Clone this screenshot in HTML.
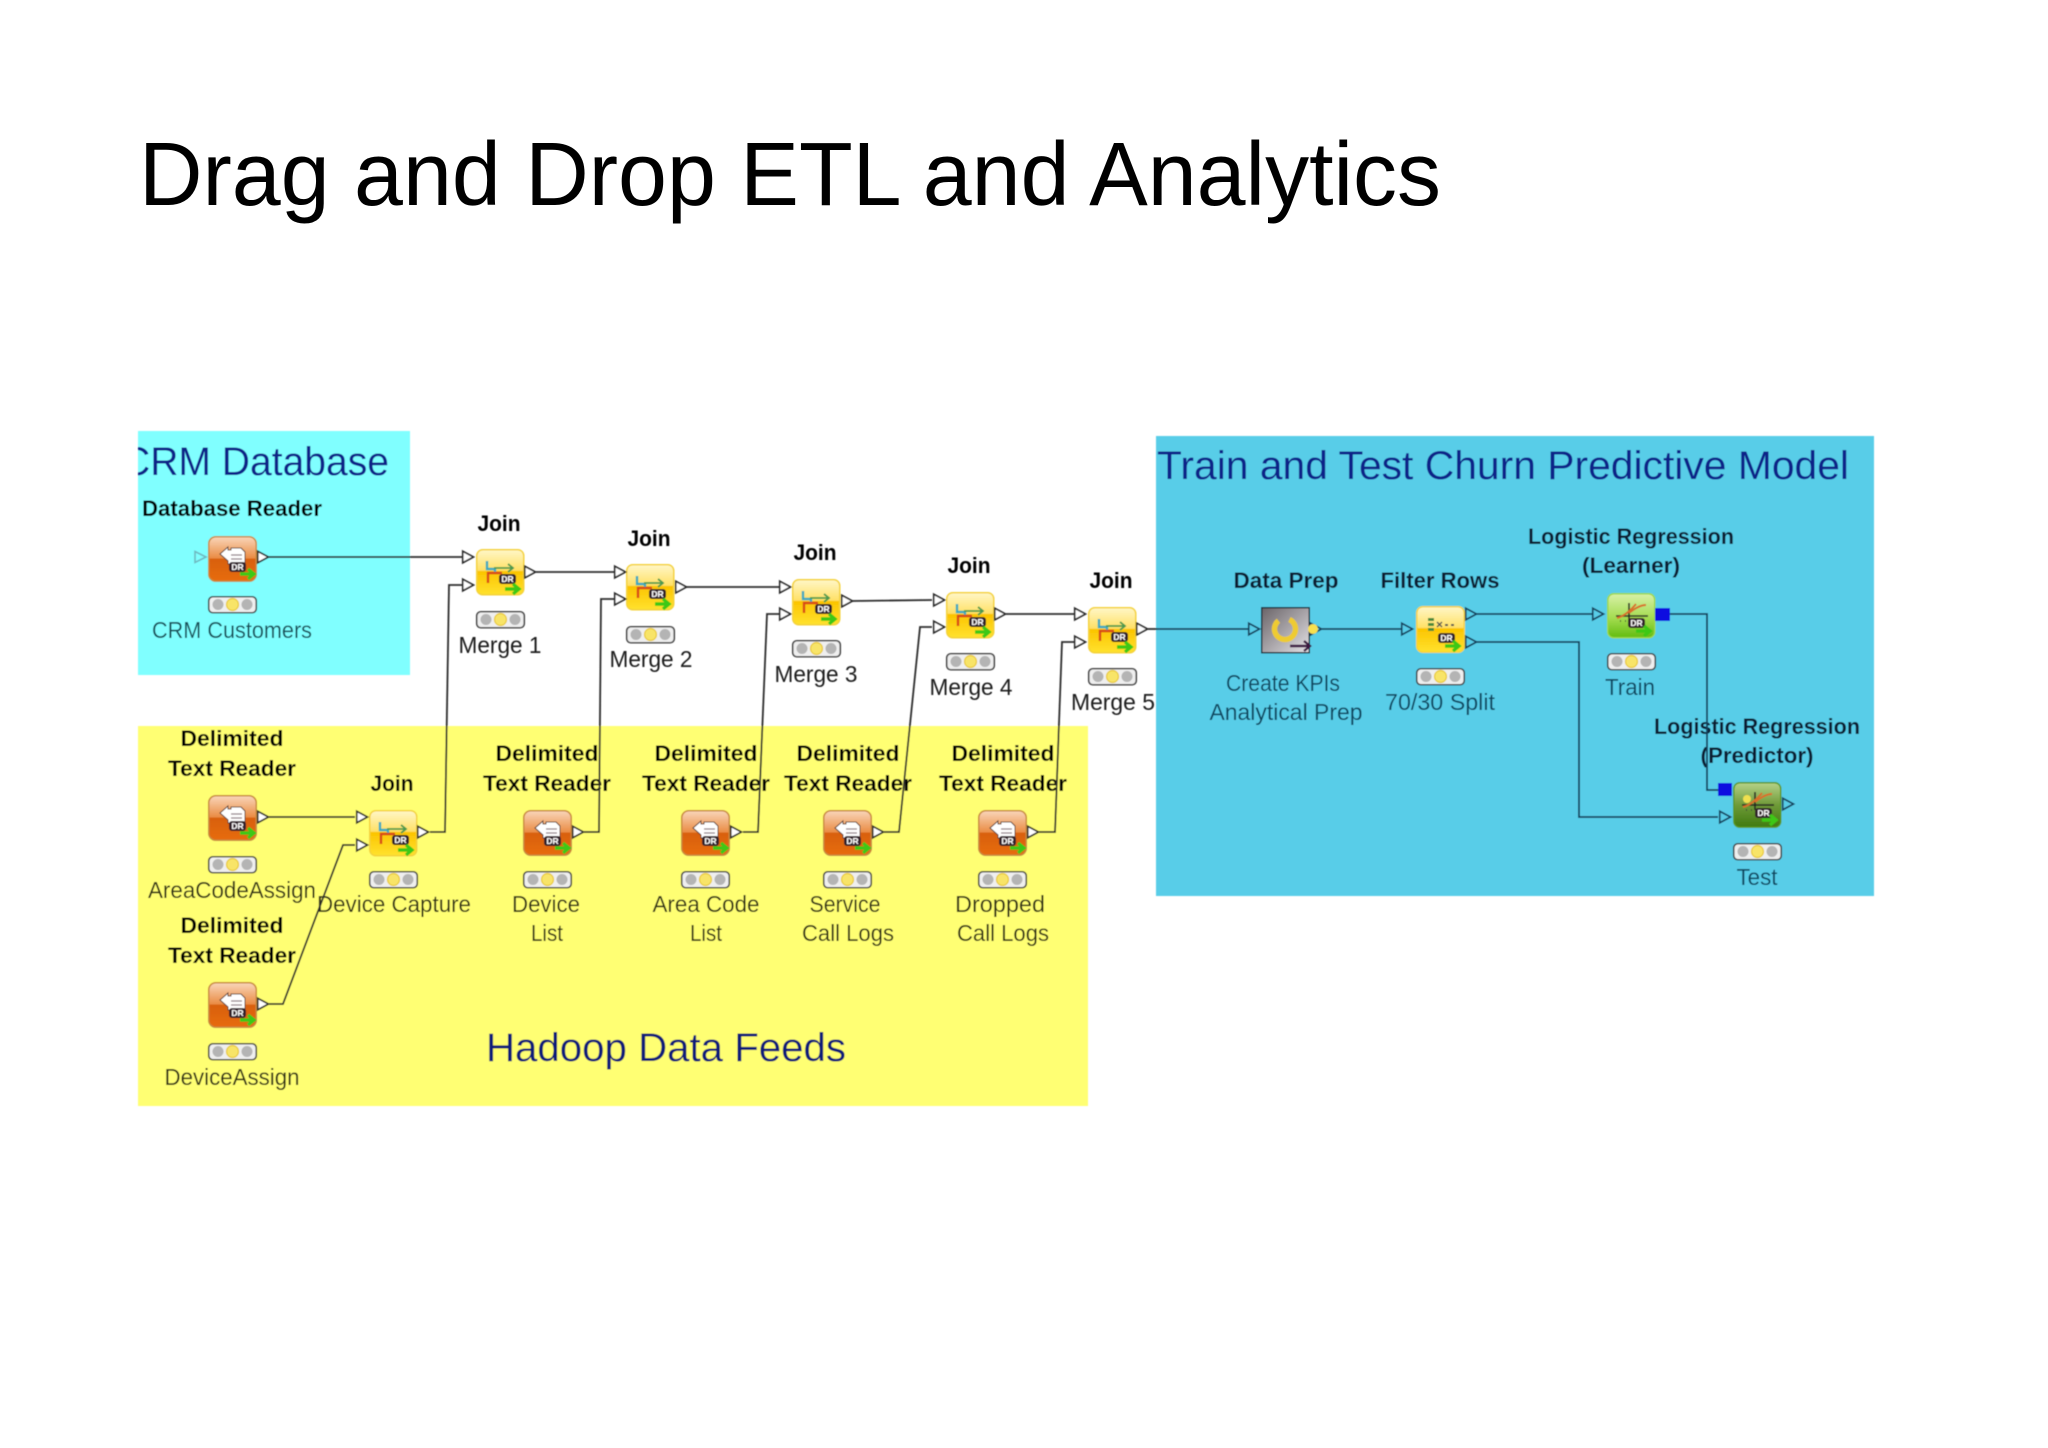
<!DOCTYPE html>
<html>
<head>
<meta charset="utf-8">
<style>
html,body{margin:0;padding:0;background:#fff;width:2048px;height:1448px;overflow:hidden}
svg{display:block}
text{font-family:"Liberation Sans",sans-serif;text-anchor:middle}
.h{font-size:40px;fill:#0a2488;text-anchor:start}
.b{font-size:22px;font-weight:bold;fill:#050505}
.l{font-size:23px;fill:#1e1e1e}
.lc{font-size:23px;fill:#124f58}
.ly{font-size:23px;fill:#2e2e14}
.lb{font-size:23px;fill:#0f4660}
.bb{font-size:22px;font-weight:bold;fill:#081c30}
.dr{font-size:8.500px;font-weight:bold;fill:#fff}
.wire{fill:none;stroke:#2d2d2d;stroke-width:1.8}
.wb{fill:none;stroke:#12405c;stroke-width:1.8}
</style>
</head>
<body>
<svg width="2048" height="1448" viewBox="0 0 2048 1448" xmlns="http://www.w3.org/2000/svg">
<defs>
<linearGradient id="gR" x1="0" y1="0" x2="0" y2="1">
<stop offset="0" stop-color="#f9d6ba"/><stop offset=".48" stop-color="#ea8c44"/><stop offset=".5" stop-color="#d8600a"/><stop offset="1" stop-color="#e76c10"/>
</linearGradient>
<linearGradient id="gJ" x1="0" y1="0" x2="0" y2="1">
<stop offset="0" stop-color="#fff7c8"/><stop offset=".46" stop-color="#ffe066"/><stop offset=".48" stop-color="#fcc400"/><stop offset="1" stop-color="#ffe22e"/>
</linearGradient>
<linearGradient id="gL" x1="0" y1="0" x2="0" y2="1">
<stop offset="0" stop-color="#d8f0a8"/><stop offset=".55" stop-color="#a4dc50"/><stop offset="1" stop-color="#62bc10"/>
</linearGradient>
<linearGradient id="gP" x1="0" y1="0" x2="0" y2="1">
<stop offset="0" stop-color="#b6d288"/><stop offset=".5" stop-color="#6f9a38"/><stop offset="1" stop-color="#3f7a10"/>
</linearGradient>
<linearGradient id="gD" x1="0" y1="0" x2="1" y2="1">
<stop offset="0" stop-color="#6a6468"/><stop offset="1" stop-color="#e4e2e6"/>
</linearGradient>
<filter id="soft" x="-2%" y="-2%" width="104%" height="104%"><feGaussianBlur stdDeviation="0.55"/></filter>
<clipPath id="crmClip"><rect x="138" y="431" width="272" height="244"/></clipPath>

<g id="arrow"><path d="M0 0h13M8-5l6 5-6 5" fill="none" stroke="#3cc818" stroke-width="3.400"/></g>

<g id="badge"><rect x="0" y="0" width="17" height="10" rx="3" fill="#33222a"/><text class="dr" x="8.500" y="8">DR</text></g>

<g id="reader">
<rect x=".75" y=".75" width="47.5" height="44.5" rx="7" fill="url(#gR)" stroke="#c98a3e" stroke-width="1.5"/>
<path d="M12 18l8-7v3h3v-2h10l4 4v12H20v-3z" fill="#fff" stroke="#5a3a30" stroke-width="1"/>
<path d="M23 19h11M23 23h11" stroke="#8a7a80" stroke-width="1.200"/>
<use href="#badge" x="21" y="26"/>
<use href="#arrow" x="32" y="38"/>
</g>

<g id="join">
<rect x=".75" y=".75" width="47" height="45" rx="6" fill="url(#gJ)" stroke="#f4d23a" stroke-width="1.5"/>
<path d="M11 12v8h8v5" fill="none" stroke="#3aa8c0" stroke-width="2.400"/>
<path d="M18 19h18M32 15l5 4-5 4" fill="none" stroke="#4c9a50" stroke-width="1.800"/>
<path d="M12 34v-10h14" fill="none" stroke="#d84a18" stroke-width="2.400"/>
<use href="#badge" x="23" y="25"/>
<use href="#arrow" x="29" y="40"/>
</g>

<g id="filterN">
<rect x=".75" y=".75" width="47.500" height="45.500" rx="6" fill="url(#gJ)" stroke="#f4d23a" stroke-width="1.5"/>
<path d="M12 12h6v3h-6zM12 17h6v3h-6zM12 22h6v3h-6z" fill="#4a8a3a"/>
<path d="M21 16l5 5M26 16l-5 5" stroke="#555" stroke-width="1.4"/>
<path d="M29 19h3M35 19h3" stroke="#555" stroke-width="2"/>
<use href="#badge" x="22" y="27"/>
<use href="#arrow" x="29" y="40"/>
</g>

<g id="chart">
<path d="M9 23h32M22 10v18" stroke="#222" stroke-width="1.6" fill="none"/>
<path d="M10 25c8-2 14-8 19-14M22 20c5-4 11-8 17-8" stroke="#d8702a" stroke-width="2" fill="none"/>
<path d="M13 28h1M18 28h1M24 28h1" stroke="#333" stroke-width="1.5"/>
</g>

<g id="learner">
<rect x=".75" y=".75" width="47" height="44" rx="6" fill="url(#gL)" stroke="#9ad84a" stroke-width="1.5"/>
<use href="#chart"/>
<use href="#badge" x="21" y="25"/>
<use href="#arrow" x="29" y="38"/>
</g>

<g id="predictor">
<rect x=".75" y=".75" width="47" height="44.500" rx="6" fill="url(#gP)" stroke="#5c9a24" stroke-width="1.5"/>
<use href="#chart"/>
<circle cx="14" cy="17" r="4" fill="#f0e050"/>
<use href="#badge" x="22" y="26"/>
<use href="#arrow" x="29" y="38"/>
</g>

<g id="dataprep">
<rect x=".75" y=".75" width="47.500" height="45" fill="url(#gD)" stroke="#1c2a38" stroke-width="1.5"/>
<circle cx="24" cy="22" r="10.500" fill="none" stroke="#eecb30" stroke-width="5.500" stroke-dasharray="54 12" transform="rotate(-65 24 22)"/>
<path d="M29 39h19M43 34l6 5-6 5" fill="none" stroke="#3a1840" stroke-width="2.400"/>
</g>

<g id="light">
<rect x=".75" y=".75" width="47.500" height="16" rx="4" fill="#efefef" stroke="#444" stroke-width="1.600"/>
<circle cx="10" cy="8.500" r="5.500" fill="#b4b4b4"/>
<circle cx="39" cy="8.500" r="5.500" fill="#b4b4b4"/>
<circle cx="24.500" cy="8.500" r="6" fill="#f8e468" stroke="#e8c830" stroke-width="1.200"/>
</g>

<g id="pt"><path d="M.75 -5.800L11.500 0L.75 5.800Z" fill="#fff" stroke="#2a2a2a" stroke-width="1.700"/></g>
<g id="ptb"><path d="M.75 -5.800L11.500 0L.75 5.800Z" fill="none" stroke="#12405c" stroke-width="1.700"/></g>
</defs>

<rect width="2048" height="1448" fill="#fff"/>

<text x="139" y="205" textLength="1302" lengthAdjust="spacingAndGlyphs" style="font-size:90px;fill:#000;text-anchor:start">Drag and Drop ETL and Analytics</text>

<g filter="url(#soft)">
<!-- panels -->
<rect x="138" y="431" width="272" height="244" fill="#80ffff"/>
<rect x="138" y="726" width="950" height="380" fill="#ffff73"/>
<rect x="1156" y="436" width="718" height="460" fill="#59cde8"/>

<!-- headings -->
<g clip-path="url(#crmClip)"><text class="h" x="122" y="475" textLength="267" lengthAdjust="spacingAndGlyphs">CRM Database</text></g>
<text class="h" x="1157" y="479" textLength="692" lengthAdjust="spacingAndGlyphs">Train and Test Churn Predictive Model</text>
<text class="h" x="486" y="1061" textLength="360" lengthAdjust="spacingAndGlyphs" style="fill:#101a78">Hadoop Data Feeds</text>

<!-- titles -->
<text class="b" x="232" y="516" textLength="180" lengthAdjust="spacingAndGlyphs">Database Reader</text>
<text class="b" x="499" y="531" textLength="43" lengthAdjust="spacingAndGlyphs">Join</text>
<text class="b" x="649" y="546" textLength="43" lengthAdjust="spacingAndGlyphs">Join</text>
<text class="b" x="815" y="560" textLength="43" lengthAdjust="spacingAndGlyphs">Join</text>
<text class="b" x="969" y="573" textLength="43" lengthAdjust="spacingAndGlyphs">Join</text>
<text class="b" x="1111" y="588" textLength="43" lengthAdjust="spacingAndGlyphs">Join</text>
<text class="b" x="392" y="791" textLength="43" lengthAdjust="spacingAndGlyphs">Join</text>

<text class="b" x="232" y="746" textLength="103" lengthAdjust="spacingAndGlyphs">Delimited</text>
<text class="b" x="232" y="776" textLength="128" lengthAdjust="spacingAndGlyphs">Text Reader</text>
<text class="b" x="232" y="933" textLength="103" lengthAdjust="spacingAndGlyphs">Delimited</text>
<text class="b" x="232" y="963" textLength="128" lengthAdjust="spacingAndGlyphs">Text Reader</text>
<text class="b" x="547" y="761" textLength="103" lengthAdjust="spacingAndGlyphs">Delimited</text>
<text class="b" x="547" y="791" textLength="128" lengthAdjust="spacingAndGlyphs">Text Reader</text>
<text class="b" x="706" y="761" textLength="103" lengthAdjust="spacingAndGlyphs">Delimited</text>
<text class="b" x="706" y="791" textLength="128" lengthAdjust="spacingAndGlyphs">Text Reader</text>
<text class="b" x="848" y="761" textLength="103" lengthAdjust="spacingAndGlyphs">Delimited</text>
<text class="b" x="848" y="791" textLength="128" lengthAdjust="spacingAndGlyphs">Text Reader</text>
<text class="b" x="1003" y="761" textLength="103" lengthAdjust="spacingAndGlyphs">Delimited</text>
<text class="b" x="1003" y="791" textLength="128" lengthAdjust="spacingAndGlyphs">Text Reader</text>

<text class="bb" x="1286" y="588" textLength="105" lengthAdjust="spacingAndGlyphs">Data Prep</text>
<text class="bb" x="1440" y="588" textLength="119" lengthAdjust="spacingAndGlyphs">Filter Rows</text>
<text class="bb" x="1631" y="544" textLength="206" lengthAdjust="spacingAndGlyphs">Logistic Regression</text>
<text class="bb" x="1631" y="573" textLength="98" lengthAdjust="spacingAndGlyphs">(Learner)</text>
<text class="bb" x="1757" y="734" textLength="206" lengthAdjust="spacingAndGlyphs">Logistic Regression</text>
<text class="bb" x="1757" y="763" textLength="113" lengthAdjust="spacingAndGlyphs">(Predictor)</text>

<!-- labels -->
<text class="lc" x="232" y="638" textLength="160" lengthAdjust="spacingAndGlyphs">CRM Customers</text>
<text class="l" x="500" y="653" textLength="83" lengthAdjust="spacingAndGlyphs">Merge 1</text>
<text class="l" x="651" y="667" textLength="83" lengthAdjust="spacingAndGlyphs">Merge 2</text>
<text class="l" x="816" y="682" textLength="83" lengthAdjust="spacingAndGlyphs">Merge 3</text>
<text class="l" x="971" y="695" textLength="83" lengthAdjust="spacingAndGlyphs">Merge 4</text>
<text class="l" x="1113" y="710" textLength="84" lengthAdjust="spacingAndGlyphs">Merge 5</text>

<text class="ly" x="232" y="898" textLength="168" lengthAdjust="spacingAndGlyphs">AreaCodeAssign</text>
<text class="ly" x="394" y="912" textLength="154" lengthAdjust="spacingAndGlyphs">Device Capture</text>
<text class="ly" x="232" y="1085" textLength="135" lengthAdjust="spacingAndGlyphs">DeviceAssign</text>
<text class="ly" x="546" y="912" textLength="68" lengthAdjust="spacingAndGlyphs">Device</text>
<text class="ly" x="547" y="941" textLength="32" lengthAdjust="spacingAndGlyphs">List</text>
<text class="ly" x="706" y="912" textLength="107" lengthAdjust="spacingAndGlyphs">Area Code</text>
<text class="ly" x="706" y="941" textLength="32" lengthAdjust="spacingAndGlyphs">List</text>
<text class="ly" x="845" y="912" textLength="71" lengthAdjust="spacingAndGlyphs">Service</text>
<text class="ly" x="848" y="941" textLength="92" lengthAdjust="spacingAndGlyphs">Call Logs</text>
<text class="ly" x="1000" y="912" textLength="90" lengthAdjust="spacingAndGlyphs">Dropped</text>
<text class="ly" x="1003" y="941" textLength="92" lengthAdjust="spacingAndGlyphs">Call Logs</text>

<text class="lb" x="1283" y="691" textLength="114" lengthAdjust="spacingAndGlyphs">Create KPIs</text>
<text class="lb" x="1286" y="720" textLength="153" lengthAdjust="spacingAndGlyphs">Analytical Prep</text>
<text class="lb" x="1440" y="710" textLength="110" lengthAdjust="spacingAndGlyphs">70/30 Split</text>
<text class="lb" x="1630" y="695" textLength="50" lengthAdjust="spacingAndGlyphs">Train</text>
<text class="lb" x="1757" y="885" textLength="41" lengthAdjust="spacingAndGlyphs">Test</text>

<!-- connectors -->
<path class="wire" d="M268 557H462"/>
<path class="wire" d="M536 572H614"/>
<path class="wire" d="M686 587H779"/>
<path class="wire" d="M852 601L932 600"/>
<path class="wire" d="M1006 614H1074"/>
<path class="wire" d="M1148 629H1157"/>
<path class="wb" d="M1157 629H1248"/>
<path class="wb" d="M1322 629H1401"/>
<path class="wb" d="M1476 614H1592"/>
<path class="wb" d="M1670 614H1707V790H1718"/>
<path class="wb" d="M1476 642H1579V817H1718"/>
<path class="wire" d="M269 817H355"/>
<path class="wire" d="M269 1004H283L343 845H355"/>
<path class="wire" d="M430 832H445L449 585H462"/>
<path class="wire" d="M584 832H599L601 599H614"/>
<path class="wire" d="M743 832H758L767 614H780"/>
<path class="wire" d="M884 832H899L920 627H932"/>
<path class="wire" d="M1039 832H1055L1062 642H1074"/>

<!-- nodes -->
<use href="#reader" x="208" y="536"/><use href="#light" x="208" y="596"/>
<use href="#reader" x="208" y="795"/><use href="#light" x="208" y="856"/>
<use href="#reader" x="208" y="982"/><use href="#light" x="208" y="1043"/>
<use href="#reader" x="523" y="810"/><use href="#light" x="523" y="871"/>
<use href="#reader" x="681" y="810"/><use href="#light" x="681" y="871"/>
<use href="#reader" x="823" y="810"/><use href="#light" x="823" y="871"/>
<use href="#reader" x="978" y="810"/><use href="#light" x="978" y="871"/>

<use href="#join" x="476" y="549"/><use href="#light" x="476" y="611"/>
<use href="#join" x="626" y="564"/><use href="#light" x="626" y="626"/>
<use href="#join" x="792" y="579"/><use href="#light" x="792" y="640"/>
<use href="#join" x="946" y="592"/><use href="#light" x="946" y="653"/>
<use href="#join" x="1088" y="607"/><use href="#light" x="1088" y="668"/>
<use href="#join" x="369" y="810"/><use href="#light" x="369" y="871"/>

<use href="#dataprep" x="1261" y="607"/>
<use href="#filterN" x="1416" y="606"/><use href="#light" x="1416" y="668"/>
<use href="#learner" x="1607" y="593"/><use href="#light" x="1607" y="653"/>
<use href="#predictor" x="1733" y="782"/><use href="#light" x="1733" y="843"/>

<!-- ports -->
<path d="M195 551.500L206 557L195 562.500Z" fill="none" stroke="#6fb8c0" stroke-width="1.600"/>
<use href="#pt" x="257" y="557"/>
<use href="#pt" x="462" y="557"/><use href="#pt" x="462" y="585"/><use href="#pt" x="524" y="572"/>
<use href="#pt" x="614" y="572"/><use href="#pt" x="614" y="599"/><use href="#pt" x="675" y="587"/>
<use href="#pt" x="779" y="587"/><use href="#pt" x="779" y="614"/><use href="#pt" x="841" y="601"/>
<use href="#pt" x="933" y="600"/><use href="#pt" x="933" y="627"/><use href="#pt" x="994" y="614"/>
<use href="#pt" x="1074" y="614"/><use href="#pt" x="1074" y="642"/><use href="#pt" x="1136" y="629"/>
<use href="#pt" x="257" y="817"/><use href="#pt" x="257" y="1004"/>
<use href="#pt" x="356" y="817"/><use href="#pt" x="356" y="845"/><use href="#pt" x="417" y="832"/>
<use href="#pt" x="572" y="832"/><use href="#pt" x="730" y="832"/><use href="#pt" x="872" y="832"/><use href="#pt" x="1027" y="832"/>

<use href="#ptb" x="1248" y="629"/>
<use href="#ptb" x="1310" y="629"/>
<circle cx="1313" cy="629" r="5" fill="#f8e050"/>
<use href="#ptb" x="1401" y="629"/>
<use href="#ptb" x="1465" y="614"/><use href="#ptb" x="1465" y="642"/>
<use href="#ptb" x="1592" y="614"/>
<use href="#ptb" x="1782" y="804"/>
<use href="#ptb" x="1719" y="817"/>

<rect x="1655" y="608" width="15" height="13" fill="#0808e0"/>
<rect x="1718" y="783" width="14" height="13" fill="#0808e0"/>
</g>
</svg>
</body>
</html>
